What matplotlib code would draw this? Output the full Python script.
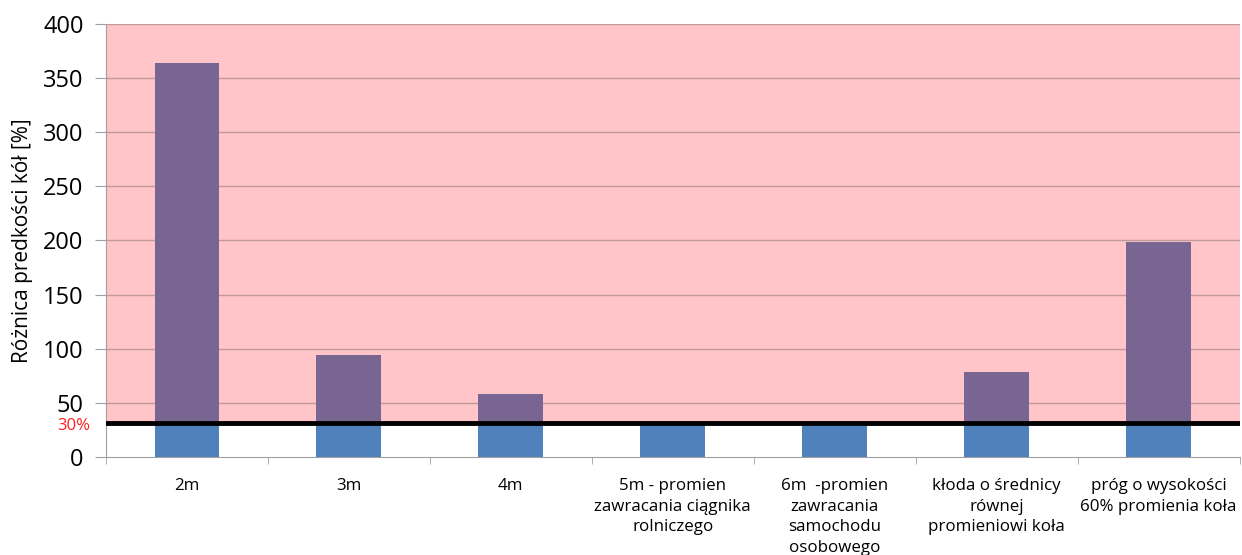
"""Wheel speed difference per obstacle, split at the 30% threshold."""

import matplotlib.pyplot as plt
import numpy as np

categories = [
    "2m",
    "3m",
    "4m",
    "5m - promien\nzawracania ciągnika\nrolniczego",
    "6m  -promien\nzawracania\nsamochodu\nosobowego",
    "kłoda o średnicy\nrównej\npromieniowi koła",
    "próg o wysokości\n60% promienia koła",
]
speed_diff = [364, 94, 58, 31.4, 28.6, 78.5, 198.5]
threshold = 31.4
y_ticks = [0, 50, 100, 150, 200, 250, 300, 350, 400]

blue = "#4F81BD"
purple = "#786591"
pink = "#FFC5C8"

plt.rcParams["font.family"] = ["Open Sans", "DejaVu Sans"]

fig = plt.figure(figsize=(12.42, 5.55), dpi=100)
ax = fig.add_axes([0.0853, 0.1766, 0.9127, 0.7802])

x = np.arange(len(categories))
values = np.array(speed_diff)
lower = np.minimum(values, threshold)
upper = np.clip(values - threshold, 0, None)

ax.axhspan(threshold, 400, color=pink, zorder=0, lw=0)
for y in y_ticks[1:]:
    ax.axhline(y, color="#C09A9C", lw=1.0, zorder=1)

ax.bar(x, lower, width=0.4, color=blue, zorder=2)
ax.bar(x, upper, width=0.4, bottom=threshold, color=purple, zorder=2)
ax.axhline(threshold, color="black", lw=3.5, zorder=3)
ax.text(-0.0135, threshold - 3, "30%", color="#FF2020", fontsize=12,
        ha="right", va="center", transform=ax.get_yaxis_transform())

ax.set_xlim(-0.5, len(categories) - 0.5)
ax.set_ylim(0, 400)
ax.set_yticks(y_ticks)
ax.tick_params(axis="y", labelsize=17, length=8, color="#A0A0A0", pad=8)
ax.set_xticks(x)
ax.set_xticklabels(categories, fontsize=12.2, linespacing=1.4)
ax.tick_params(axis="x", length=0, pad=15)
ax.set_xticks(np.arange(len(categories) + 1) - 0.5, minor=True)
ax.tick_params(axis="x", which="minor", length=5, color="#A0A0A0")
ax.set_ylabel("Różnica predkości kół [%]", fontsize=15)
ax.yaxis.set_label_coords(-0.0644, 0.5)

for side in ("top", "right"):
    ax.spines[side].set_visible(False)
for side in ("left", "bottom"):
    ax.spines[side].set_color("#A0A0A0")

fig.savefig("out.png", dpi=100)
